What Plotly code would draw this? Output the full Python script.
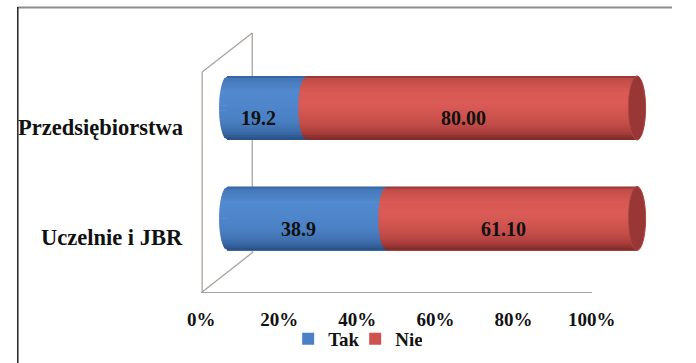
import numpy as np
import plotly.graph_objects as go

# --- data -------------------------------------------------------------
categories = ["Przedsiębiorstwa", "Uczelnie i JBR"]
tak = [19.2, 38.9]
nie = [80.00, 61.10]
series_names = ["Tak", "Nie"]
tick_vals = [0, 20, 40, 60, 80, 100]
tick_text = ["0%", "20%", "40%", "60%", "80%", "100%"]

# --- styling ----------------------------------------------------------
W, H = 696, 363
FONT = "'Liberation Serif', 'Times New Roman', Times, serif"
BAR_W = 0.58           # bar thickness in category units
CAP_R = 2.1            # horizontal radius of the cylinder end ellipses (x units)
N_STRIPES = 26
X_PAD = 3.0            # room on both sides of 0..100 for the rounded ends

blue_profile = [(0.00, "#2f5d98"), (0.06, "#4479bb"), (0.25, "#5389ce"),
                (0.45, "#5087cc"), (0.70, "#4a80c3"), (0.88, "#3c6caa"),
                (1.00, "#264e84")]
red_profile = [(0.00, "#8a302e"), (0.06, "#c24d49"), (0.25, "#d95954"),
               (0.45, "#da5b56"), (0.70, "#c9504c"), (0.88, "#ac403d"),
               (1.00, "#7a2928")]
profiles = [blue_profile, red_profile]
base_colors = ["#4a80c4", "#d0524e"]


def hex_rgb(h):
    h = h.lstrip("#")
    return np.array([int(h[i:i + 2], 16) for i in (0, 2, 4)], dtype=float)


def shade(profile, t):
    ts = [p[0] for p in profile]
    cs = [hex_rgb(p[1]) for p in profile]
    for k in range(len(ts) - 1):
        if ts[k] <= t <= ts[k + 1]:
            f = (t - ts[k]) / (ts[k + 1] - ts[k])
            c = cs[k] * (1 - f) + cs[k + 1] * f
            return "rgb(%d,%d,%d)" % tuple(np.round(c))
    return "rgb(%d,%d,%d)" % tuple(np.round(cs[-1]))


def px_x(p):
    return p / W


def px_y(p):
    return 1 - p / H


# bar plane: value 0 sits at x=226px, value 100 at x=659px
px_per_unit = (659 - 226) / 100
bar_dom = [px_x(226 - X_PAD * px_per_unit), px_x(659 + X_PAD * px_per_unit)]

ypos = [len(categories) - 1 - i for i in range(len(categories))]
values = [tak, nie]

fig = go.Figure()
for name, vals, col in zip(series_names, values, base_colors):
    fig.add_trace(go.Bar(
        name=name, x=vals, y=ypos, orientation="h", width=BAR_W,
        marker=dict(color=col, line=dict(width=0)),
        hoverinfo="skip", xaxis="x", yaxis="y",
    ))

# carrier for the percentage axis on the floor of the 3D frame
fig.add_trace(go.Scatter(
    x=tick_vals, y=[-0.5] * len(tick_vals), xaxis="x2", yaxis="y",
    mode="markers", marker=dict(opacity=0, size=1),
    hoverinfo="skip", showlegend=False,
))

shapes = []
LINE_COL = "#a9a39d"

# 3D frame: back wall and floor edges (drawn behind the bars)
frame = [((199, 72), (199, 292)), ((199, 72), (252, 33)),
         ((252, 33), (252, 252)), ((199, 292), (253, 252))]
for (x0, y0), (x1, y1) in frame:
    shapes.append(dict(type="line", xref="paper", yref="paper",
                       x0=px_x(x0), y0=px_y(y0), x1=px_x(x1), y1=px_y(y1),
                       line=dict(color=LINE_COL, width=1.3), layer="below"))

# outer border (top and left edges)
shapes.append(dict(type="line", xref="paper", yref="paper",
                   x0=px_x(4), y0=px_y(7.5), x1=1, y1=px_y(7.5),
                   line=dict(color="#8c8c8c", width=2.2), layer="above"))
shapes.append(dict(type="line", xref="paper", yref="paper",
                   x0=px_x(4), y0=px_y(7), x1=px_x(4), y1=0,
                   line=dict(color="#2e2e2e", width=1.6), layer="above"))

annotations = []
hh = BAR_W / 2
for i, yc in enumerate(ypos):
    seg_vals = [tak[i], nie[i]]
    total = sum(seg_vals)
    shares = [v / total * 100 for v in seg_vals]
    edges = np.concatenate([[0], np.cumsum(shares)])
    for s in range(len(seg_vals)):
        xa, xb = edges[s], edges[s + 1]
        ts = np.linspace(0, 1, N_STRIPES + 1)
        for k in range(N_STRIPES):
            t0, t1 = ts[k], ts[k + 1]
            y1 = yc + hh - t0 * BAR_W
            y2 = yc + hh - t1 * BAR_W
            e1 = np.sqrt(max(0.0, 1 - ((y1 - yc) / hh) ** 2))
            e2 = np.sqrt(max(0.0, 1 - ((y2 - yc) / hh) ** 2))
            xl1 = xa - CAP_R * e1
            xl2 = xa - CAP_R * e2
            ya = y1 + 0.003 if k > 0 else y1
            yb = y2 - 0.003 if k < N_STRIPES - 1 else y2
            path = (f"M {xl1:.4f},{ya:.4f} L {xb:.4f},{ya:.4f} "
                    f"L {xb:.4f},{yb:.4f} L {xl2:.4f},{yb:.4f} Z")
            shapes.append(dict(type="path", xref="x", yref="y", path=path,
                               fillcolor=shade(profiles[s], (t0 + t1) / 2),
                               line=dict(width=0), layer="above"))
        fmt = "{:.1f}" if s == 0 else "{:.2f}"
        annotations.append(dict(
            x=(xa + xb) / 2 - CAP_R, y=yc, xref="x", yref="y",
            text=fmt.format(seg_vals[s]), showarrow=False, yshift=-10,
            font=dict(family=FONT, size=20, color="#111111", weight="bold"),
        ))
    # right end face of the cylinder
    shapes.append(dict(type="circle", xref="x", yref="y",
                       x0=edges[-1] - CAP_R, x1=edges[-1] + CAP_R,
                       y0=yc - hh, y1=yc + hh,
                       fillcolor="#983735", line=dict(color="#ad4643", width=1),
                       layer="above"))
    # category label on the front plane
    annotations.append(dict(
        x=px_x(181), y=yc, xref="paper", yref="y", xanchor="right",
        text=categories[i], showarrow=False, yshift=-19,
        font=dict(family=FONT, size=22.5, color="#111111", weight="bold"),
    ))

fig.update_layout(
    width=W, height=H, margin=dict(l=0, r=0, t=0, b=0),
    paper_bgcolor="white", plot_bgcolor="rgba(0,0,0,0)",
    font=dict(family=FONT),
    barmode="stack", barnorm="percent", bargap=0,
    xaxis=dict(domain=bar_dom, range=[-X_PAD, 100 + X_PAD], visible=False,
               fixedrange=True),
    xaxis2=dict(domain=[px_x(198), px_x(611)], range=[0, 100],
                anchor="free", position=px_y(292),
                tickvals=tick_vals, ticktext=tick_text,
                showline=True, linecolor=LINE_COL, linewidth=1.3,
                ticks="outside", ticklen=10, tickcolor="rgba(0,0,0,0)",
                showgrid=False, zeroline=False, fixedrange=True,
                tickfont=dict(family=FONT, size=19, color="#111111",
                              weight="bold")),
    yaxis=dict(domain=[px_y(273.75), px_y(52.75)], range=[-0.5, 1.5],
               visible=False, fixedrange=True),
    showlegend=True,
    legend=dict(orientation="h", x=px_x(290), xanchor="left",
                y=px_y(339), yanchor="middle", traceorder="normal",
                font=dict(family=FONT, size=19, color="#111111",
                          weight="bold"),
                itemwidth=30, entrywidth=22, bgcolor="rgba(0,0,0,0)"),
    shapes=shapes, annotations=annotations,
)

fig.write_html("out.html")
